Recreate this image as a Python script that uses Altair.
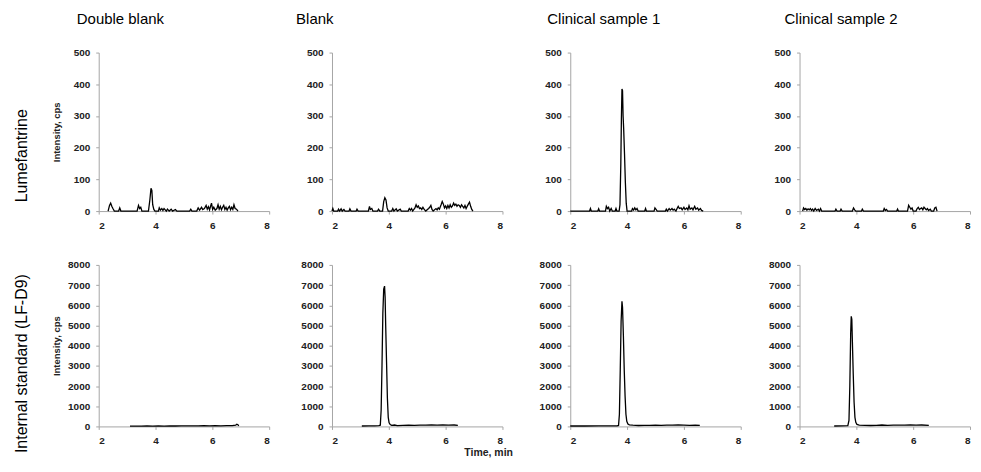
import altair as alt
import pandas as pd

samples = ["Double blank", "Blank", "Clinical sample 1", "Clinical sample 2"]
analytes = ["Lumefantrine", "Internal standard (LF-D9)"]
y_title = "Intensity, cps"
x_title = "Time, min"
time_ticks = [2, 4, 6, 8]
lf_ticks = [0, 100, 200, 300, 400, 500]
is_ticks = [0, 1000, 2000, 3000, 4000, 5000, 6000, 7000, 8000]

# Lumefantrine traces: (time, intensity)
lf_double_blank = [
    (2.33, 0), (2.38, 18), (2.42, 25), (2.46, 15), (2.50, 8), (2.55, 0), (2.70, 0), (2.74, 10),
    (2.78, 0), (3.00, 0), (3.35, 0), (3.40, 18), (3.44, 8), (3.48, 12), (3.52, 0), (3.75, 0),
    (3.80, 35), (3.84, 72), (3.87, 65), (3.90, 20), (3.94, 5), (3.98, 0), (4.10, 0), (4.13, 10),
    (4.17, 3), (4.22, 8), (4.26, 2), (4.30, 8), (4.38, 0), (4.42, 6), (4.48, 0), (4.55, 6),
    (4.60, 0), (4.70, 5), (4.75, 0), (5.20, 0), (5.24, 6), (5.28, 0), (5.45, 0), (5.50, 10),
    (5.55, 3), (5.62, 12), (5.66, 5), (5.72, 8), (5.78, 18), (5.82, 6), (5.86, 14), (5.90, 4),
    (5.94, 16), (5.97, 25), (6.01, 5), (6.05, 12), (6.10, 3), (6.16, 8), (6.20, 20), (6.24, 6),
    (6.28, 15), (6.32, 4), (6.36, 12), (6.40, 18), (6.44, 5), (6.48, 12), (6.52, 3), (6.56, 10),
    (6.60, 15), (6.64, 4), (6.68, 12), (6.72, 5), (6.76, 20), (6.80, 8), (6.85, 6), (6.90, 0),
]
lf_blank = [
    (2.00, 0), (2.03, 8), (2.06, 0), (2.20, 0), (2.23, 6), (2.27, 0), (2.32, 7), (2.36, 0),
    (2.42, 5), (2.46, 0), (2.60, 0), (2.63, 7), (2.67, 0), (2.85, 0), (2.88, 6), (2.92, 0),
    (3.28, 0), (3.32, 15), (3.35, 5), (3.40, 8), (3.44, 0), (3.60, 0), (3.64, 6), (3.68, 0),
    (3.78, 0), (3.82, 30), (3.86, 42), (3.90, 35), (3.94, 10), (3.98, 0), (4.10, 0), (4.14, 8),
    (4.18, 0), (4.26, 7), (4.30, 0), (4.40, 6), (4.44, 0), (4.68, 0), (4.72, 8), (4.76, 3),
    (4.80, 8), (4.84, 0), (4.92, 10), (4.96, 20), (5.00, 12), (5.04, 16), (5.08, 8), (5.12, 10),
    (5.16, 5), (5.20, 12), (5.24, 6), (5.30, 0), (5.40, 8), (5.44, 12), (5.48, 18), (5.52, 5),
    (5.56, 0), (5.66, 8), (5.70, 4), (5.74, 10), (5.78, 6), (5.84, 20), (5.88, 30), (5.92, 22),
    (5.96, 10), (6.00, 16), (6.04, 8), (6.08, 18), (6.12, 10), (6.16, 20), (6.20, 12), (6.24, 16),
    (6.28, 25), (6.32, 18), (6.36, 22), (6.40, 15), (6.44, 20), (6.48, 18), (6.52, 12), (6.56, 20),
    (6.60, 15), (6.64, 10), (6.68, 18), (6.72, 8), (6.76, 15), (6.80, 22), (6.84, 28), (6.88, 15),
    (6.92, 5), (6.96, 0),
]
lf_clinical_1 = [
    (2.00, 0), (2.68, 0), (2.71, 8), (2.74, 0), (2.97, 0), (3.00, 7), (3.03, 0), (3.24, 0),
    (3.27, 15), (3.31, 8), (3.35, 12), (3.39, 0), (3.44, 8), (3.48, 0), (3.58, 0), (3.61, 8),
    (3.64, 0), (3.72, 0), (3.75, 20), (3.78, 150), (3.80, 290), (3.82, 385), (3.84, 380), (3.86, 300),
    (3.88, 260), (3.91, 180), (3.94, 90), (3.97, 25), (4.00, 0), (4.16, 0), (4.19, 8), (4.23, 3),
    (4.27, 10), (4.31, 4), (4.35, 8), (4.39, 0), (4.62, 0), (4.65, 8), (4.68, 0), (4.95, 0),
    (4.98, 10), (5.02, 5), (5.06, 0), (5.35, 0), (5.38, 6), (5.42, 0), (5.48, 8), (5.52, 3),
    (5.58, 8), (5.62, 3), (5.66, 6), (5.72, 0), (5.76, 8), (5.80, 15), (5.84, 8), (5.90, 10),
    (5.94, 4), (6.00, 12), (6.04, 5), (6.10, 10), (6.14, 4), (6.18, 17), (6.22, 6), (6.28, 10),
    (6.32, 4), (6.38, 15), (6.42, 6), (6.48, 10), (6.52, 3), (6.58, 8), (6.62, 2), (6.68, 0),
]
lf_clinical_2 = [
    (2.11, 0), (2.14, 10), (2.18, 5), (2.22, 8), (2.26, 3), (2.30, 7), (2.34, 4), (2.38, 8),
    (2.42, 2), (2.46, 6), (2.50, 0), (2.55, 8), (2.60, 2), (2.66, 6), (2.70, 0), (2.74, 8),
    (2.78, 0), (3.25, 0), (3.28, 6), (3.32, 0), (3.43, 0), (3.46, 6), (3.50, 0), (3.86, 0),
    (3.90, 10), (3.94, 4), (3.98, 0), (4.18, 0), (4.21, 6), (4.25, 0), (4.95, 0), (4.98, 8),
    (5.02, 2), (5.06, 5), (5.10, 0), (5.42, 0), (5.45, 6), (5.48, 0), (5.80, 0), (5.84, 18),
    (5.88, 12), (5.92, 6), (5.96, 10), (6.00, 0), (6.10, 0), (6.14, 8), (6.18, 12), (6.22, 5),
    (6.26, 8), (6.30, 10), (6.34, 4), (6.38, 12), (6.42, 8), (6.46, 4), (6.50, 8), (6.54, 2),
    (6.60, 6), (6.64, 0), (6.72, 0), (6.76, 10), (6.80, 12), (6.84, 0),
]

# Internal standard (LF-D9) traces: (time, intensity)
is_double_blank = [
    (3.10, 10), (3.30, 15), (3.50, 10), (3.70, 20), (3.90, 15), (4.10, 20), (4.30, 15), (4.50, 25),
    (4.70, 20), (4.90, 30), (5.10, 25), (5.30, 30), (5.50, 25), (5.70, 35), (5.90, 30), (6.10, 35),
    (6.30, 30), (6.50, 40), (6.70, 35), (6.82, 60), (6.86, 110), (6.90, 80), (6.93, 30),
]
is_blank = [
    (3.05, 20), (3.30, 25), (3.50, 30), (3.65, 35), (3.70, 60), (3.73, 800), (3.76, 3000),
    (3.79, 5600), (3.82, 6800), (3.85, 6950), (3.87, 6400), (3.89, 5000), (3.92, 3200), (3.95, 1400),
    (3.98, 450), (4.01, 180), (4.05, 90), (4.10, 50), (4.20, 70), (4.30, 40), (4.50, 50), (4.70, 60),
    (4.90, 55), (5.10, 65), (5.30, 60), (5.50, 70), (5.70, 60), (5.90, 75), (6.10, 65), (6.30, 70),
    (6.43, 55),
]
is_clinical_1 = [
    (2.00, 20), (2.50, 20), (3.00, 25), (3.40, 25), (3.65, 30), (3.70, 50), (3.73, 600), (3.76, 2800),
    (3.79, 5200), (3.82, 6200), (3.84, 5900), (3.87, 4500), (3.90, 2800), (3.93, 1500), (3.96, 600),
    (3.99, 250), (4.03, 120), (4.08, 80), (4.20, 60), (4.40, 45), (4.60, 55), (4.80, 50), (5.00, 60),
    (5.20, 55), (5.40, 65), (5.60, 60), (5.80, 70), (6.00, 60), (6.20, 55), (6.40, 65), (6.56, 50),
]
is_clinical_2 = [
    (3.22, 20), (3.50, 25), (3.70, 35), (3.74, 300), (3.77, 2000), (3.80, 4600), (3.82, 5450),
    (3.84, 5300), (3.86, 4200), (3.89, 2600), (3.92, 1200), (3.95, 450), (3.98, 200), (4.02, 100),
    (4.10, 60), (4.30, 50), (4.50, 45), (4.70, 55), (4.90, 70), (5.10, 55), (5.30, 60), (5.50, 65),
    (5.70, 60), (5.90, 70), (6.10, 65), (6.30, 70), (6.55, 55),
]

lf_traces = [lf_double_blank, lf_blank, lf_clinical_1, lf_clinical_2]
is_traces = [is_double_blank, is_blank, is_clinical_1, is_clinical_2]

FONT = "Liberation Sans"
W = 171
H_TOP = 159
H_BOT = 162
col_title_dx = [63, -4, 9, 17]
row_shift = [-24, -18]


def panel(points, ticks, ymax, height, first_col=False, row_label=None, shift=0, time_title=False):
    df = pd.DataFrame(points, columns=["t", "v"])
    if time_title:
        x = alt.X(
            "t:Q",
            scale=alt.Scale(domain=[2, 8], nice=False),
            axis=alt.Axis(values=time_ticks, format="d", title=x_title,
                          titleX=W + 10, titleAlign="right", titlePadding=2,
                          titleFontSize=10.5),
        )
    else:
        x = alt.X("t:Q", scale=alt.Scale(domain=[2, 8], nice=False),
                  axis=alt.Axis(values=time_ticks, format="d"), title=None)
    if first_col:
        y = alt.Y("v:Q", scale=alt.Scale(domain=[0, ymax], nice=False),
                  axis=alt.Axis(values=ticks, format="d", title=y_title))
    else:
        y = alt.Y("v:Q", scale=alt.Scale(domain=[0, ymax], nice=False),
                  axis=alt.Axis(values=ticks, format="d"), title=None)
    ch = alt.Chart(df).mark_line(color="black", strokeWidth=1.3).encode(x=x, y=y)
    if row_label:
        ch = ch.properties(
            width=W, height=height,
            title=alt.TitleParams(text=row_label, orient="left", anchor="middle",
                                  frame="group", fontSize=16, offset=22, dx=shift),
        )
    else:
        ch = ch.properties(width=W, height=height)
    return ch


columns = []
for j, sample in enumerate(samples):
    top = panel(lf_traces[j], lf_ticks, 500, H_TOP, first_col=(j == 0),
                row_label=analytes[0] if j == 0 else None, shift=row_shift[0])
    bot = panel(is_traces[j], is_ticks, 8000, H_BOT, first_col=(j == 0),
                row_label=analytes[1] if j == 0 else None, shift=row_shift[1],
                time_title=(j == 1))
    col = alt.vconcat(
        top, bot, spacing=30,
        title=alt.TitleParams(text=sample, anchor="start", dx=col_title_dx[j],
                              offset=21, fontSize=15),
    )
    columns.append(col)

chart = (
    alt.hconcat(*columns, spacing=26)
    .properties(padding={"left": 5, "top": 3, "right": 2, "bottom": 5})
    .configure_view(strokeWidth=0)
    .configure_title(font=FONT, fontWeight="normal", color="black")
    .configure_axis(
        grid=False,
        domainColor="#a6a6a6",
        tickColor="#a6a6a6",
        tickSize=3,
        labelPadding=6,
        labelFont=FONT,
        labelFontSize=10,
        labelFontWeight="bold",
        labelColor="#222222",
        titleFont=FONT,
        titleFontSize=9.5,
        titleFontWeight="bold",
        titleColor="#222222",
    )
    .configure_axisY(minExtent=32, maxExtent=32, titlePadding=5)
)

chart.save("out.html", embed_options={"renderer": "svg", "actions": False})
